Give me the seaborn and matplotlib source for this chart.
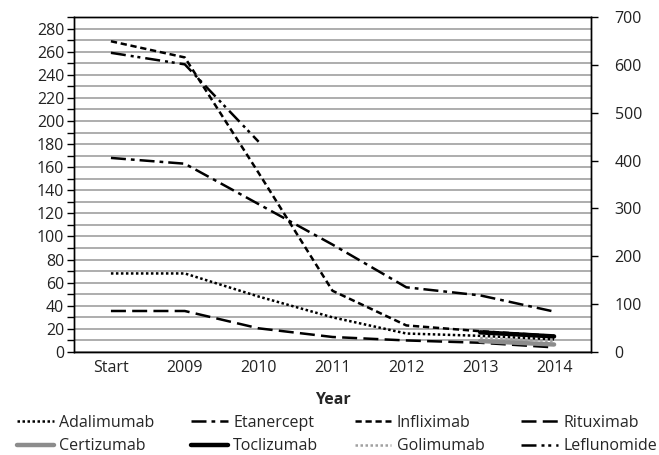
import matplotlib
matplotlib.use("Agg")
import matplotlib.pyplot as plt
import numpy as np
import pandas as pd
import seaborn as sns

nan = np.nan

years = ["Start", "2009", "2010", "2011", "2012", "2013", "2014"]

adalimumab = [68, 68, 48, 30, 16, 14, 11]
etanercept = [168, 163, 128, 93, 56, 49, 35]
infliximab = [269, 255, 155, 53, 23, 18, 14]
rituximab = [35.5, 35.5, 20.5, 13, 10, 8, 4]
certizumab = [nan, nan, nan, nan, nan, 9.5, 6.5]
toclizumab = [nan, nan, nan, nan, nan, 17, 13.5]
golimumab = [nan, nan, nan, nan, nan, 12, 9.5]
leflunomide = [259, 249, 182, nan, nan, nan, nan]

series = {
    "Adalimumab": adalimumab,
    "Etanercept": etanercept,
    "Infliximab": infliximab,
    "Rituximab": rituximab,
    "Certizumab": certizumab,
    "Toclizumab": toclizumab,
    "Golimumab": golimumab,
    "Leflunomide": leflunomide,
}

styles = {
    "Adalimumab": dict(color="black", lw=1.8, ls=(0, (1, 1))),
    "Etanercept": dict(color="black", lw=1.8, ls=(0, (6, 2, 1.5, 2))),
    "Infliximab": dict(color="black", lw=1.8, ls=(0, (2.5, 1.5))),
    "Rituximab": dict(color="black", lw=1.8, ls=(0, (6, 2.5))),
    "Certizumab": dict(color="#8c8c8c", lw=3.2, ls="-"),
    "Toclizumab": dict(color="black", lw=3.2, ls="-"),
    "Golimumab": dict(color="#a0a0a0", lw=1.8, ls=(0, (1, 1))),
    "Leflunomide": dict(color="black", lw=1.8, ls=(0, (6, 2, 1.2, 1.5, 1.2, 2))),
}

FS = 11.5

sns.set_style("white")
plt.rcParams["font.family"] = ["Open Sans", "DejaVu Sans"]
plt.rcParams["font.size"] = FS

fig = plt.figure(figsize=(6.59, 4.55), dpi=100)
ax = fig.add_axes([74 / 659, 1 - 352 / 455, (591 - 74) / 659, (352 - 17) / 455])

xpos = np.arange(len(years)) + 0.5
handles = {}
for name, vals in series.items():
    df = pd.DataFrame({"x": xpos, "y": vals}).dropna()
    st = styles[name]
    sns.lineplot(data=df, x="x", y="y", ax=ax, color=st["color"], linewidth=st["lw"],
                 linestyle=st["ls"], label=name, legend=False)
    handles[name] = ax.get_lines()[-1]

ax.set_xlim(0, 7)
ax.set_ylim(0, 290)
ax.set_xticks(np.arange(0, 8))
ax.set_xticklabels([])
ax.set_xticks(xpos, minor=True)
ax.set_xticklabels(years, minor=True)
ax.tick_params(axis="x", which="major", direction="out", length=5, width=1, color="black")
ax.tick_params(axis="x", which="minor", length=0, pad=6, labelsize=FS, labelcolor="#222222")

yt = np.arange(0, 291, 10)
ax.set_yticks(yt)
ax.set_yticklabels([str(v) if v % 20 == 0 else "" for v in yt])
ax.tick_params(axis="y", direction="out", length=5, width=1, color="black", pad=2,
               labelsize=FS, labelcolor="#222222")
ax.grid(axis="y", color="#a0a0a0", lw=1.2)
ax.set_axisbelow(True)
for s in ax.spines.values():
    s.set_color("black")
    s.set_linewidth(1)

ax.set_xlabel("Year", fontweight="bold", fontsize=FS, labelpad=11)
ax.set_ylabel("")

ax2 = ax.twinx()
ax2.set_ylim(0, 700)
ax2.set_yticks(np.arange(0, 701, 100))
ax2.tick_params(axis="y", direction="out", length=5, width=1, color="black", pad=12,
                labelsize=FS, labelcolor="#222222")
for s in ax2.spines.values():
    s.set_color("black")
    s.set_linewidth(1)

order = ["Adalimumab", "Certizumab", "Etanercept", "Toclizumab",
         "Infliximab", "Golimumab", "Rituximab", "Leflunomide"]
fig.legend([handles[n] for n in order], order, ncol=4, loc="lower left",
           bbox_to_anchor=(16 / 659, 0.0, 642 / 659, 0.12), mode="expand",
           frameon=False, fontsize=FS, handlelength=2.3, handletextpad=0.35,
           labelspacing=0.45, borderaxespad=0.0, borderpad=0.05)

fig.savefig("out.png", dpi=100)
